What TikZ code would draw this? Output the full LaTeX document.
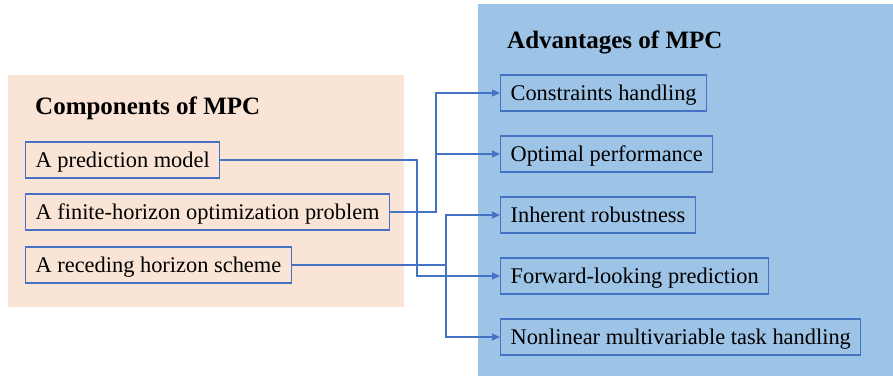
\documentclass[tikz,border=0pt]{standalone}
\usepackage{fontspec}
\setmainfont{Liberation Serif}
\usetikzlibrary{arrows.meta}

\definecolor{peach}{RGB}{250,228,214}
\definecolor{skyblue}{RGB}{157,195,230}
\definecolor{linkblue}{RGB}{68,114,196}

\tikzset{
  itembox/.style={draw=linkblue, line width=1.2pt, anchor=west, minimum height=36pt,
    inner xsep=10pt, text height=17pt, text depth=3pt, font=\fontsize{22.4}{26}\selectfont},
  heading/.style={anchor=base west, inner sep=0pt, font=\fontsize{25}{30}\selectfont\bfseries},
  link/.style={draw=linkblue, line width=1.3pt},
  arrowlink/.style={link, -{Triangle[length=8pt,width=7pt]}}
}

\begin{document}
\begin{tikzpicture}[x=1pt, y=-1pt]
\useasboundingbox (0,0) rectangle (893,376);
% background panels
\fill[peach] (8,75) rectangle (404,307);
\fill[skyblue] (478,4) rectangle (893,376);

% headings
\node[heading] (comp) at (35,114) {Components of MPC};
\node[heading] (adv) at (507,48) {Advantages of MPC};

% components
\node[itembox] (pm) at (25,160) {A prediction model};
\node[itembox] (fh) at (25,212) {A finite-horizon optimization problem};
\node[itembox] (rh) at (25,265) {A receding horizon scheme};

% advantages
\node[itembox] (ch) at (500,93) {Constraints handling};
\node[itembox] (op) at (500,154) {Optimal performance};
\node[itembox] (ir) at (500,215) {Inherent robustness};
\node[itembox] (fl) at (500,276) {Forward-looking prediction};
\node[itembox] (nl) at (500,337) {Nonlinear multivariable task handling};

% junction columns
\coordinate (j1) at (417,0);
\coordinate (j2) at (436,0);
\coordinate (j3) at (446,0);

% connectors
\draw[arrowlink] (pm.east) -| (j1 |- fl.west) -- (fl.west);
\draw[arrowlink] (fh.east) -| (j2 |- ch.west) -- (ch.west);
\draw[arrowlink] (j2 |- op.west) -- (op.west);
\draw[arrowlink] (rh.east) -| (j3 |- nl.west) -- (nl.west);
\draw[arrowlink] (j3 |- rh.east) |- (ir.west);
\end{tikzpicture}
\end{document}
